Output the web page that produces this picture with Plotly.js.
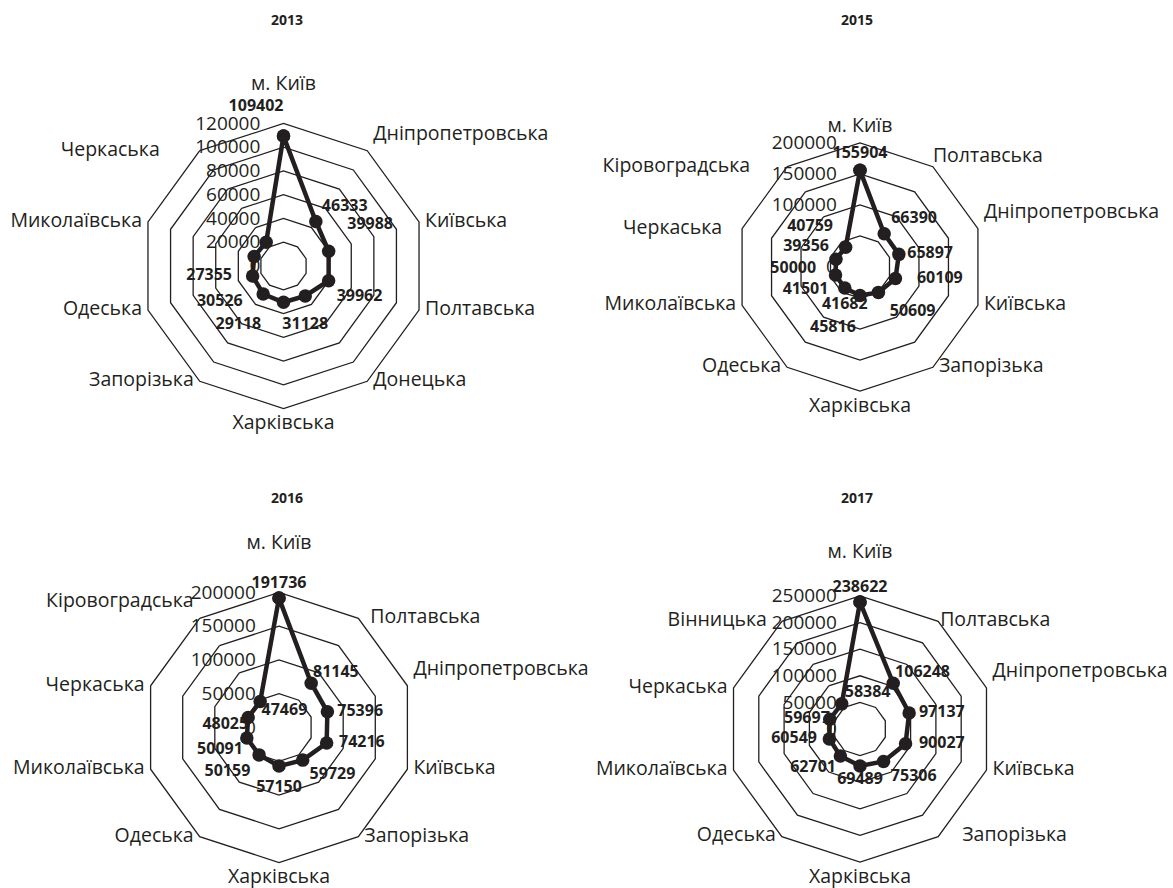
<!DOCTYPE html>
<html>
<head>
<meta charset="utf-8">
<script src="https://cdn.plot.ly/plotly-3.0.1.min.js"></script>
<style>
html,body{margin:0;padding:0;background:#fff;}
#chart{width:1173px;height:888px;}
</style>
</head>
<body>
<div id="chart"></div>
<script>
// ---- data ----
const years = ['2013', '2015', '2016', '2017'];

const cats2013 = ['м. Київ', 'Дніпропетровська', 'Київська', 'Полтавська', 'Донецька', 'Харківська', 'Запорізька', 'Одеська', 'Миколаївська', 'Черкаська'];
const vals2013 = [109402, 46333, 39988, 39962, 31128, 30526, 29118, 27355, 26000, 24800];

const cats2015 = ['м. Київ', 'Полтавська', 'Дніпропетровська', 'Київська', 'Запорізька', 'Харківська', 'Одеська', 'Миколаївська', 'Черкаська', 'Кіровоградська'];
const vals2015 = [155904, 66390, 65897, 60109, 50609, 45816, 41682, 41501, 40759, 39356];

const cats2016 = ['м. Київ', 'Полтавська', 'Дніпропетровська', 'Київська', 'Запорізька', 'Харківська', 'Одеська', 'Миколаївська', 'Черкаська', 'Кіровоградська'];
const vals2016 = [191736, 81145, 75396, 74216, 59729, 57150, 50159, 50091, 48025, 47469];

const cats2017 = ['м. Київ', 'Полтавська', 'Дніпропетровська', 'Київська', 'Запорізька', 'Харківська', 'Одеська', 'Миколаївська', 'Черкаська', 'Вінницька'];
const vals2017 = [238622, 106248, 97137, 90027, 75306, 69489, 62701, 60549, 59697, 58384];

const radialMax = [120000, 200000, 200000, 250000];
const radialStep = [20000, 50000, 50000, 50000];

// ---- styling ----
const INK = '#231f20';
const FONT = 'Open Sans, Noto Sans, DejaVu Sans, sans-serif';
const W = 1173, H = 888;

// value labels: side of the point, gap from the point (px), visibility, extra blank line
const labelPos = [
  ['top left', 'top right', 'top right', 'bottom right', 'bottom center', 'middle left', 'bottom left', 'middle left', 'middle left', 'middle left'],
  ['top center', 'top right', 'middle right', 'middle right', 'bottom right', 'bottom left', 'bottom center', 'bottom left', 'top left', 'middle left'],
  ['top center', 'top right', 'middle right', 'middle right', 'bottom right', 'bottom center', 'bottom left', 'bottom left', 'bottom left', 'bottom right'],
  ['top center', 'top right', 'middle right', 'middle right', 'bottom right', 'bottom center', 'bottom left', 'middle left', 'middle left', 'top right']
];
const labelGap = [
  [0, 6, 18.6, 8, 20.8, 40.8, 1.9, 20.6, 6, 6],
  [8, 7, 8.4, 21.5, 11.3, 4.2, 9, 7.1, 3, 16.7],
  [5.7, 1.8, 9.9, 12.4, 6.9, 14.3, 8.8, 4, 0, 1.4],
  [6.4, 1.9, 9.8, 13.4, 7.3, 6, 4.4, 12.4, 0, 3]
];
const labelShown = [
  [1, 1, 1, 1, 1, 1, 1, 1, 0, 0],
  [1, 1, 1, 1, 1, 1, 1, 1, 1, 1],
  [1, 1, 1, 1, 1, 1, 1, 1, 1, 1],
  [1, 1, 1, 1, 1, 1, 1, 1, 1, 1]
];
const labelNudge = [
  ['up', '', '', '', '', '', 'down', '', '', ''],
  ['', '', '', '', '', 'down', '', '', 'up', ''],
  ['', '', '', '', '', '', '', '', '', ''],
  ['', '', '', '', '', '', '', '', '', '']
];

// category names around the outer ring
const catPos = [
  ['top center', 'top right', 'middle right', 'middle right', 'middle right', 'bottom center', 'middle left', 'middle left', 'middle left', 'middle left'],
  ['top center', 'top right', 'top right', 'middle right', 'middle right', 'bottom center', 'middle left', 'middle left', 'middle left', 'middle left'],
  ['top center', 'middle right', 'top right', 'middle right', 'middle right', 'bottom center', 'middle left', 'middle left', 'middle left', 'top left'],
  ['top center', 'middle right', 'top right', 'middle right', 'middle right', 'bottom center', 'middle left', 'middle left', 'middle left', 'middle left']
];
const catGap = [
  [3, 6, 6, 6, 6, 6, 6, 6, 6, 40],
  [6, 0, 6, 6, 6, 6, 6, 6, 20, 37],
  [13, 12, 6, 6, 6, 6, 6, 6, 6, 6],
  [8, 2, 6, 6, 24, 6, 6, 6, 6, 15]
];
const catNudge = ['up', '', 'up', 'up'];

// centre (px) and outer radius (px) of every panel
const panels = [
  {cx: 283.5, cy: 266, r: 142.5},
  {cx: 860, cy: 267, r: 124},
  {cx: 279, cy: 727.5, r: 135},
  {cx: 860, cy: 729, r: 133}
];
const titlePos = [[287, 20], [857, 20], [287, 497], [857, 497]];

const allCats = [cats2013, cats2015, cats2016, cats2017];
const allVals = [vals2013, vals2015, vals2016, vals2017];

// text offset in plotly = markerSize/1.6 + 1  ->  invisible marker size for a wanted gap
const gapToSize = g => (g < 1 ? 0 : (g - 1) * 1.6);
function nudge(s, how) {
  if (how === 'up') return s + '<br> ';
  if (how === 'down') return ' <br>' + s;
  return s;
}

const traces = [];
const layout = {
  width: W, height: H,
  margin: {l: 0, r: 0, t: 0, b: 0},
  paper_bgcolor: '#ffffff',
  showlegend: false,
  font: {family: FONT, color: INK},
  annotations: []
};

allVals.forEach((vals, i) => {
  const cats = allCats[i];
  const key = i === 0 ? 'polar' : 'polar' + (i + 1);

  // closed line with markers
  traces.push({
    type: 'scatterpolar',
    subplot: key,
    r: vals.concat([vals[0]]),
    theta: cats.concat([cats[0]]),
    mode: 'lines+markers',
    line: {color: INK, width: 4.5},
    marker: {color: INK, size: 13.5},
    cliponaxis: false,
    hoverinfo: 'skip'
  });

  // value labels
  traces.push({
    type: 'scatterpolar',
    subplot: key,
    r: vals,
    theta: cats,
    mode: 'markers+text',
    text: vals.map((v, j) => labelShown[i][j] ? nudge(String(v), labelNudge[i][j]) : ''),
    textposition: labelPos[i],
    textfont: {family: FONT, size: 16, color: INK, weight: 700},
    marker: {size: labelGap[i].map(gapToSize), opacity: 0},
    cliponaxis: false,
    hoverinfo: 'skip'
  });

  // category names on the outer ring
  traces.push({
    type: 'scatterpolar',
    subplot: key,
    r: cats.map(() => radialMax[i]),
    theta: cats,
    mode: 'markers+text',
    text: cats.map((c, j) => j === 0 ? nudge(c, catNudge[i]) : c),
    textposition: catPos[i],
    textfont: {family: FONT, size: 19.5, color: INK},
    marker: {size: catGap[i].map(gapToSize), opacity: 0},
    cliponaxis: false,
    hoverinfo: 'skip'
  });

  const tickvals = [];
  const ticktext = [];
  for (let t = 0; t <= radialMax[i]; t += radialStep[i]) {
    tickvals.push(t);
    ticktext.push(String(t));
  }
  if (i === 1) {
    ticktext[1] = '';
    ticktext[0] = '<span style="font-weight:bold;font-size:16px">50000</span>  0';
  }

  const p = panels[i];
  layout[key] = {
    domain: {
      x: [(p.cx - p.r) / W, (p.cx + p.r) / W],
      y: [1 - (p.cy + p.r) / H, 1 - (p.cy - p.r) / H]
    },
    gridshape: 'linear',
    bgcolor: 'rgba(0,0,0,0)',
    angularaxis: {
      direction: 'clockwise',
      rotation: 90,
      showgrid: false,
      showline: true,
      linecolor: INK,
      linewidth: 1.3,
      ticks: '',
      showticklabels: false
    },
    radialaxis: {
      range: [0, radialMax[i]],
      tickvals: tickvals,
      ticktext: ticktext,
      angle: 90,
      side: 'counterclockwise',
      showline: false,
      gridcolor: INK,
      gridwidth: 1.3,
      ticks: 'outside',
      ticklen: 16,
      tickcolor: 'rgba(0,0,0,0)',
      tickangle: 90,
      tickfont: {family: FONT, size: 19, color: INK},
      layer: 'below traces'
    }
  };

  layout.annotations.push({
    text: '<b>' + years[i] + '</b>',
    xref: 'paper', yref: 'paper',
    x: titlePos[i][0] / W, y: 1 - titlePos[i][1] / H,
    xanchor: 'center', yanchor: 'middle',
    showarrow: false,
    font: {family: FONT, size: 14, color: INK}
  });
});

Plotly.newPlot('chart', traces, layout, {staticPlot: true});
</script>
</body>
</html>
